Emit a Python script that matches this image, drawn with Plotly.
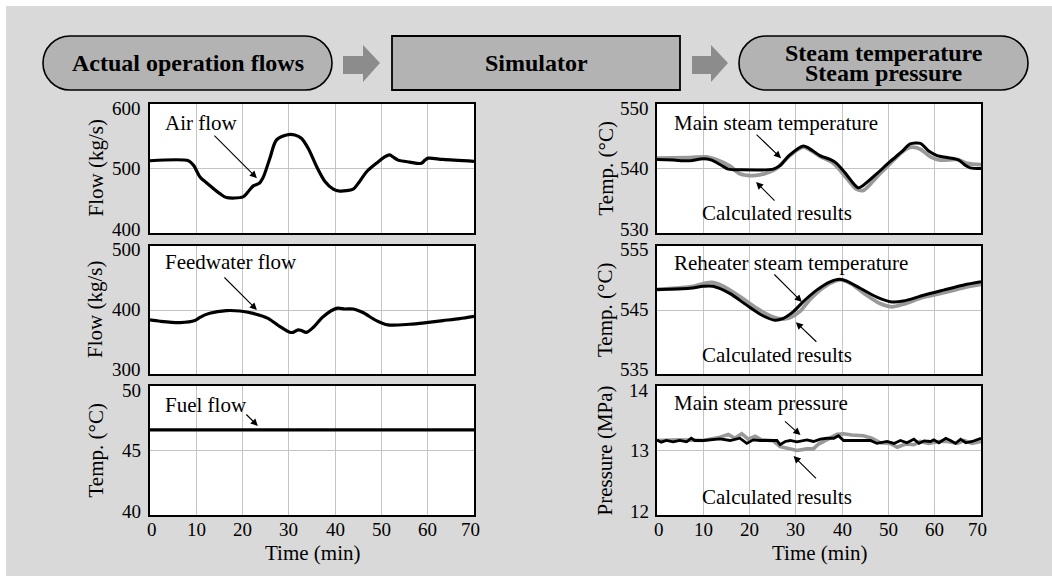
import plotly.graph_objects as go

W, H = 1052, 576
SERIF = "'Liberation Serif', 'Times New Roman', Times, serif"

# ---------------- data ----------------
air_t = [0, 8.3, 9.4, 10.8, 12.2, 15.1, 16.5, 20.1, 21.2, 22.3, 23.6, 24.5, 25.9, 27.3, 29.5, 31.3,
         32.7, 34.2, 36, 37.8, 39.6, 41, 43.9, 45, 46.8, 48.9, 50.7, 51.8, 52.5, 53.6, 56.1, 58.6,
         59.4, 60.1, 63.3, 70]
air_v = [512, 512, 505, 487, 478, 461, 455, 456, 464, 473, 477, 487, 516, 544, 552, 552,
         547, 531, 503, 480, 468, 465, 468, 477, 495, 508, 518, 521, 518, 513, 510, 508,
         513, 516, 514, 511]

fw_t = [0, 2.2, 6.5, 9.7, 10.8, 12.9, 16.5, 19.4, 22.3, 25.5, 28.1, 30.2, 30.9, 32, 32.7, 33.8,
        35.3, 37.4, 40.3, 42.1, 43.9, 46, 48.9, 51.4, 56.1, 59.7, 63.3, 66.9, 70]
fw_v = [384.5, 382.4, 380.3, 383.4, 388.6, 394.8, 399, 398.4, 394.8, 387, 374, 365.3, 365, 369, 367.9, 365,
        373, 389.6, 402.6, 401.6, 401.6, 396, 383.4, 376.7, 377.7, 380.3, 383.4, 386.5, 390]

fuel_t = [0, 70]
fuel_v = [46.6, 46.6]

mst_t = [0, 3.5, 7.1, 10, 11.8, 13.9, 15.4, 17.9, 25.1, 26.5, 28.7, 31.6, 32.7, 35.2, 37.4, 38.8,
         41, 42.4, 43.5, 44.6, 47.5, 50.4, 52.9, 54.7, 56.9, 58.7, 60.5, 62.7, 65.2, 66.6, 67.7, 70]
mst_v = [541.4, 541.3, 541.2, 541.5, 541.3, 540.5, 539.9, 539.8, 539.9, 540.4, 542.1, 543.5, 543.2, 542, 541.4, 540.8,
         539, 537.7, 537, 537.4, 539.2, 541.1, 542.6, 543.8, 543.9, 542.7, 542, 541.7, 541.3, 540.5, 540.1, 540]
mst_calc_t = [0, 7.1, 10.7, 12.8, 15.7, 17.9, 20.1, 22.2, 24.4, 25.8, 28.7, 31.6, 35.2, 38.1, 41, 43.1,
              44.6, 47.5, 50.4, 53.2, 55, 56.9, 59.1, 61.2, 64.8, 67, 70]
mst_calc_v = [541.6, 541.7, 541.8, 541.4, 540.4, 539.2, 538.9, 539, 539.5, 540, 542, 543.3, 541.9, 540.8, 538.5, 536.8,
              536.6, 538.7, 540.8, 542.7, 543.3, 543, 541.8, 541.3, 541.4, 540.8, 540.6]

rh_t = [0, 7.1, 10, 12.1, 15.7, 19.3, 22.9, 25.5, 27.3, 29.4, 31.6, 34.5, 37.4, 39.5, 41, 43.9,
        47.5, 50.4, 53.2, 57.6, 61.9, 66.3, 70]
rh_v = [548.2, 548.4, 548.7, 548.7, 547.6, 545.8, 544.1, 543.4, 543.7, 544.7, 546.3, 548.1, 549.4, 549.8, 549.5, 548.4,
        547, 546.3, 546.4, 547.3, 548.1, 548.9, 549.4]
rh_calc_t = [0, 7.1, 11.8, 14.3, 17.9, 21.5, 24.4, 26.9, 28.7, 30.9, 33, 35.9, 38.8, 39.9, 41.7, 45.3,
             48.2, 50.7, 53.2, 57.6, 61.9, 66.3, 70]
rh_calc_v = [548.2, 548.6, 549.3, 548.7, 547.1, 545.3, 544.1, 543.6, 543.8, 544.8, 546.6, 548.5, 549.6, 549.7, 549.2, 547.3,
             546, 545.5, 545.9, 547, 547.7, 548.5, 549]

msp_t = [0, 0.9, 2, 3.5, 4.9, 6.4, 7.4, 8.2, 10, 12.1, 13.6, 15.8, 17.9, 19.4, 20.8, 22.3, 24.4, 25.9,
         26.6, 27.7, 28.8, 30.2, 32.4, 33.8, 35.3, 36.7, 38.2, 39.2, 40.3, 43.2, 46.1, 47.5, 49.7, 51.2,
         52.6, 54, 55.5, 56.6, 57.7, 59.1, 59.8, 60.9, 62.4, 63.4, 64.5, 65.6, 66.7, 68.1, 70]
msp_v = [13.165, 13.13, 13.155, 13.134, 13.155, 13.134, 13.19, 13.155, 13.155, 13.175, 13.18, 13.155, 13.19, 13.11,
         13.165, 13.155, 13.155, 13.155, 13.09, 13.14, 13.155, 13.134, 13.165, 13.14, 13.175, 13.19, 13.19, 13.23,
         13.155, 13.15, 13.155, 13.11, 13.14, 13.11, 13.155, 13.12, 13.175, 13.11, 13.15, 13.14, 13.165, 13.12,
         13.19, 13.155, 13.11, 13.175, 13.12, 13.14, 13.19]
msp_calc_t = [0, 4.9, 10, 13.6, 15.4, 16.8, 18.3, 19.7, 21.2, 22.6, 25.1, 26.6, 28.4, 30.2, 32.4, 33.8,
              34.9, 36.7, 38.9, 40.3, 42.1, 44.6, 46.4, 48.3, 50.4, 51.9, 53.7, 55.5, 56.9, 58.7, 60.9,
              62.7, 64.9, 66.3, 68.1, 70]
msp_calc_v = [13.155, 13.165, 13.155, 13.205, 13.25, 13.19, 13.26, 13.175, 13.22, 13.165, 13.15, 13.06, 13.03,
              13.0, 13.025, 13.025, 13.1, 13.165, 13.25, 13.26, 13.24, 13.23, 13.19, 13.12, 13.11, 13.05, 13.1,
              13.09, 13.14, 13.11, 13.14, 13.14, 13.11, 13.155, 13.11, 13.14]

y_ranges = [[400, 600], [300, 500], [40, 50], [530, 550], [535, 555], [12, 14]]
y_titles = ["Flow (kg/s)", "Flow (kg/s)", "Temp. (°C)", "Temp. (°C)", "Temp. (°C)", "Pressure (MPa)"]
x_ticks = [0, 10, 20, 30, 40, 50, 60, 70]

# ---------------- layout helpers ----------------
def P(x, y):
    return f"{x / W:.5f},{1 - y / H:.5f}"

def px_x(x):
    return x / W

def px_y(y):
    return 1 - y / H

left_dom = [150 / W, 474 / W]
right_dom = [657 / W, 981 / W]
rows_px = [(104, 233), (246, 374), (386, 515)]
row_dom = [[1 - b / H, 1 - t / H] for t, b in rows_px]

BLACK = "#000000"
GRAY = "#999999"

fig = go.Figure()

def add(t, v, idx, color, width, shape="spline"):
    fig.add_trace(go.Scatter(
        x=t, y=v, mode="lines",
        line=dict(color=color, width=width, shape=shape, smoothing=0.8 if shape == "spline" else None),
        xaxis=f"x{idx if idx > 1 else ''}", yaxis=f"y{idx if idx > 1 else ''}",
        showlegend=False, hoverinfo="skip"))

add(air_t, air_v, 1, BLACK, 3.2)
add(fw_t, fw_v, 2, BLACK, 3.2)
add(fuel_t, fuel_v, 3, BLACK, 3.2, "linear")
add(mst_calc_t, mst_calc_v, 4, GRAY, 3.8)
add(mst_t, mst_v, 4, BLACK, 3.0)
add(rh_calc_t, rh_calc_v, 5, GRAY, 3.8)
add(rh_t, rh_v, 5, BLACK, 3.0)
add(msp_calc_t, msp_calc_v, 6, GRAY, 3.6, "linear")
add(msp_t, msp_v, 6, BLACK, 2.8, "linear")

layout = dict(
    width=W, height=H, margin=dict(l=0, r=0, t=0, b=0),
    paper_bgcolor="#d9d9d9", plot_bgcolor="#ffffff",
    font=dict(family=SERIF, size=19, color="#000000"),
    showlegend=False,
)

for i in range(6):
    col = 0 if i < 3 else 1
    row = i % 3
    key = "" if i == 0 else str(i + 1)
    layout[f"xaxis{key}"] = dict(
        domain=left_dom if col == 0 else right_dom, anchor=f"y{key}",
        range=[0, 70], tickvals=x_ticks,
        showticklabels=False, ticks="",
        showgrid=True, gridcolor="#c4c4c4", gridwidth=1,
        showline=True, linecolor="#000000", linewidth=1.5, mirror=True,
        zeroline=False,
    )
    r = y_ranges[i]
    layout[f"yaxis{key}"] = dict(
        domain=row_dom[row], anchor=f"x{key}",
        range=r, tickvals=[r[0], (r[0] + r[1]) / 2, r[1]],
        showticklabels=False, ticks="",
        showgrid=True, gridcolor="#c4c4c4", gridwidth=1,
        showline=True, linecolor="#000000", linewidth=1.5, mirror=True,
        zeroline=False,
    )

fig.update_layout(**layout)

# ---------------- shapes (header) ----------------
shapes = []
# white margin strips
shapes.append(dict(type="rect", xref="paper", yref="paper", x0=0, x1=1, y0=px_y(6), y1=1,
                   fillcolor="#ffffff", line=dict(width=0), layer="below"))
shapes.append(dict(type="rect", xref="paper", yref="paper", x0=0, x1=px_x(6), y0=0, y1=1,
                   fillcolor="#ffffff", line=dict(width=0), layer="below"))

def pill(x0, x1, y0, y1):
    r = (y1 - y0) / 2
    k = 0.5523 * r
    ym = (y0 + y1) / 2
    d = (f"M{P(x0 + r, y0)} L{P(x1 - r, y0)} "
         f"C{P(x1 - r + k, y0)} {P(x1, ym - k)} {P(x1, ym)} "
         f"C{P(x1, ym + k)} {P(x1 - r + k, y1)} {P(x1 - r, y1)} "
         f"L{P(x0 + r, y1)} "
         f"C{P(x0 + r - k, y1)} {P(x0, ym + k)} {P(x0, ym)} "
         f"C{P(x0, ym - k)} {P(x0 + r - k, y0)} {P(x0 + r, y0)} Z")
    return dict(type="path", xref="paper", yref="paper", path=d,
                fillcolor="#b3b3b3", line=dict(color="#000000", width=1.6))

def block_arrow(x0, x1):
    xm = x1 - 17
    d = (f"M{P(x0, 56)} L{P(xm, 56)} L{P(xm, 45)} L{P(x1, 63)} L{P(xm, 82)} "
         f"L{P(xm, 74)} L{P(x0, 74)} Z")
    return dict(type="path", xref="paper", yref="paper", path=d,
                fillcolor="#8c8c8c", line=dict(width=0))

shapes.append(pill(43, 332, 36, 90))
shapes.append(block_arrow(343, 380))
shapes.append(dict(type="rect", xref="paper", yref="paper",
                   x0=px_x(392), x1=px_x(680), y0=px_y(90), y1=px_y(36),
                   fillcolor="#b3b3b3", line=dict(color="#000000", width=1.8)))
shapes.append(block_arrow(692, 728))
shapes.append(pill(739, 1028, 36, 90))
fig.update_layout(shapes=shapes)

# ---------------- annotations ----------------
ann = []

def text(s, x, y, size=21, bold=False, xanchor="left"):
    ann.append(dict(text=f"<b>{s}</b>" if bold else s, x=px_x(x), y=px_y(y),
                    xref="paper", yref="paper", xanchor=xanchor, yanchor="middle",
                    showarrow=False, font=dict(family=SERIF, size=size, color="#000000")))

def arrow(idx, xh, yh, ax, ay):
    key = "" if idx == 1 else str(idx)
    ann.append(dict(text="", x=xh, y=yh, xref=f"x{key}", yref=f"y{key}",
                    ax=ax, ay=ay, showarrow=True, arrowhead=2, arrowsize=1.3,
                    arrowwidth=1.1, arrowcolor="#000000", standoff=0, startstandoff=0))

# header texts
text("Actual operation flows", 187.5, 63, 24, True, "center")
text("Simulator", 536, 63, 24, True, "center")
text("Steam temperature", 883.5, 53, 24, True, "center")
text("Steam pressure", 883.5, 73, 24, True, "center")

# y tick labels (top label nudged down, bottom label nudged up, as in the reference)
for i in range(6):
    key = "" if i == 0 else str(i + 1)
    r = y_ranges[i]
    vals = [r[0], (r[0] + r[1]) / 2, r[1]]
    shifts = [4, 0, -4]
    lab_x = 143 if i < 3 else 651
    for v, s in zip(vals, shifts):
        ann.append(dict(text=f"{v:g}", x=px_x(lab_x), y=v, xref="paper", yref=f"y{key}",
                        xanchor="right", yanchor="middle", yshift=s, showarrow=False,
                        font=dict(family=SERIF, size=19, color="#000000")))

# x tick labels for the bottom row
for key in ["3", "6"]:
    for v in x_ticks:
        shift = 2 if v == 0 else (-4 if v == 70 else 0)
        ann.append(dict(text=str(v), x=v, y=px_y(529), xref=f"x{key}", yref="paper",
                        xanchor="center", yanchor="middle", xshift=shift, showarrow=False,
                        font=dict(family=SERIF, size=19, color="#000000")))

# curve labels
text("Air flow", 163, 123)
arrow(1, 23.1, 485, -44, -44)
text("Feedwater flow", 163, 262)
arrow(2, 23.1, 400, -34, -34)
text("Fuel flow", 163, 405)
arrow(3, 23.3, 46.9, -13, -13)

text("Main steam temperature", 672, 123)
arrow(4, 26.8, 541.6, -26, -25)
text("Calculated results", 700, 213)
arrow(4, 21.4, 537.9, 20, 20)

text("Reheater steam temperature", 672, 263)
arrow(5, 31.3, 546.25, -29, -29)
text("Calculated results", 700, 355)
arrow(5, 30.0, 543.1, 22, 21)

text("Main steam pressure", 672, 403)
arrow(6, 31.0, 13.24, -17, -15)
text("Calculated results", 700, 497)
arrow(6, 29.5, 12.915, 24, 24)

# axis titles
y_title_x = [95, 95, 95, 605, 605, 604]
for i in range(6):
    row = i % 3
    t, b = rows_px[row]
    ann.append(dict(text=y_titles[i], x=px_x(y_title_x[i]), y=px_y((t + b) / 2),
                    xref="paper", yref="paper", xanchor="center", yanchor="middle",
                    textangle=-90, showarrow=False, font=dict(family=SERIF, size=21)))
text("Time (min)", 312, 553, 21, False, "center")
text("Time (min)", 819, 553, 21, False, "center")

fig.update_layout(annotations=ann)
fig.write_html(
    "out.html",
    config={"displayModeBar": False},
    post_script="document.body.style.margin='0';document.body.style.overflow='hidden';",
)
